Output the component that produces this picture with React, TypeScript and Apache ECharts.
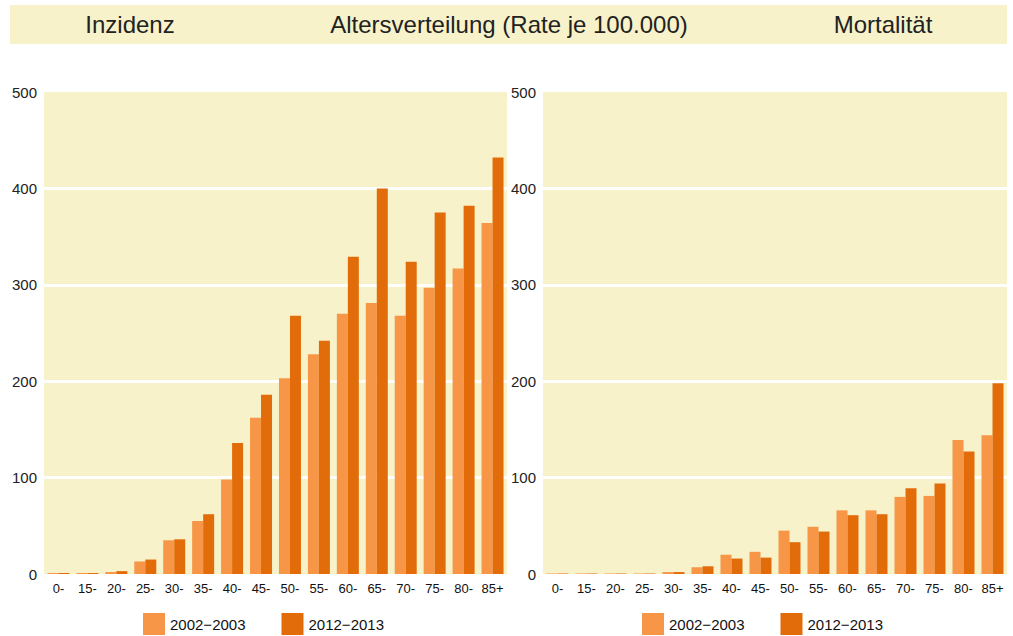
import React, { useEffect, useRef } from "react";
import * as echarts from "echarts";

const categories = ["0-", "15-", "20-", "25-", "30-", "35-", "40-", "45-", "50-", "55-", "60-", "65-", "70-", "75-", "80-", "85+"];
const seriesNames = ["2002\u22122003", "2012\u22122013"];
const incidence2002 = [1, 1, 2, 13, 35, 55, 98, 162, 203, 228, 270, 281, 268, 297, 317, 364];
const incidence2012 = [1, 1, 3, 15, 36, 62, 136, 186, 268, 242, 329, 400, 324, 375, 382, 432];
const mortality2002 = [0.5, 0.5, 0.5, 0.5, 2, 7, 20, 23, 45, 49, 66, 66, 80, 81, 139, 144];
const mortality2012 = [0.5, 0.5, 0.5, 0.5, 2, 8, 16, 17, 33, 44, 61, 62, 89, 94, 127, 198];
const headerTitles = ["Inzidenz", "Altersverteilung (Rate je 100.000)", "Mortalität"];

const LIGHT = "#F79646";
const DARK = "#E36C0A";
const BG = "#F7F2C9";
const FONT = "Liberation Sans, Arial, sans-serif";

export default function App() {
  const ref = useRef<HTMLDivElement>(null);
  useEffect(() => {
    const chart = echarts.init(ref.current!, null, { renderer: "svg" });
    const yAxisBase = {
      type: "value",
      min: 0,
      max: 500,
      interval: 100,
      axisLine: { show: false },
      axisTick: { show: false },
      axisLabel: { color: "#222", fontSize: 15, fontFamily: FONT, margin: 7 },
      splitLine: { show: true, showMinLine: false, showMaxLine: false, lineStyle: { color: "#FFFFFF", width: 3 } },
    };
    const xAxisBase = {
      type: "category",
      data: categories,
      axisLine: { show: false },
      axisTick: { show: false },
      axisLabel: { color: "#111", fontSize: 13, fontFamily: FONT, margin: 8, interval: 0 },
    };
    const barBase = { type: "bar", barWidth: 11, barGap: "0%" };
    const legendBase = {
      icon: "rect",
      itemWidth: 22,
      itemHeight: 22,
      itemGap: 36,
      padding: 0,
      top: 613,
      textStyle: { color: "#111", fontSize: 15, fontFamily: FONT },
      data: seriesNames,
      selectedMode: false,
    };
    chart.setOption({
      animation: false,
      backgroundColor: "#FFFFFF",
      grid: [
        { left: 44, top: 92, width: 463, height: 482, show: true, backgroundColor: BG, borderWidth: 0 },
        { left: 543, top: 92, width: 464, height: 482, show: true, backgroundColor: BG, borderWidth: 0 },
      ],
      xAxis: [
        { ...xAxisBase, gridIndex: 0 },
        { ...xAxisBase, gridIndex: 1 },
      ],
      yAxis: [
        { ...yAxisBase, gridIndex: 0 },
        { ...yAxisBase, gridIndex: 1 },
      ],
      legend: [
        { ...legendBase, left: 143 },
        { ...legendBase, left: 642 },
      ],
      series: [
        { ...barBase, name: seriesNames[0], xAxisIndex: 0, yAxisIndex: 0, data: incidence2002, itemStyle: { color: LIGHT } },
        { ...barBase, name: seriesNames[1], xAxisIndex: 0, yAxisIndex: 0, data: incidence2012, itemStyle: { color: DARK } },
        { ...barBase, name: seriesNames[0], xAxisIndex: 1, yAxisIndex: 1, data: mortality2002, itemStyle: { color: LIGHT } },
        { ...barBase, name: seriesNames[1], xAxisIndex: 1, yAxisIndex: 1, data: mortality2012, itemStyle: { color: DARK } },
      ],
      graphic: [
        { type: "rect", shape: { x: 10, y: 5, width: 997, height: 39 }, style: { fill: BG }, z: 0 },
        { type: "text", x: 130, y: 24, style: { text: headerTitles[0], fill: "#222", font: `24px ${FONT}`, textAlign: "center", textVerticalAlign: "middle" } },
        { type: "text", x: 509, y: 24, style: { text: headerTitles[1], fill: "#222", font: `24px ${FONT}`, textAlign: "center", textVerticalAlign: "middle" } },
        { type: "text", x: 883, y: 24, style: { text: headerTitles[2], fill: "#222", font: `24px ${FONT}`, textAlign: "center", textVerticalAlign: "middle" } },
      ],
    });
    return () => chart.dispose();
  }, []);
  return <div ref={ref} style={{ position: "fixed", left: 0, top: 0, width: 1013, height: 636 }} />;
}
